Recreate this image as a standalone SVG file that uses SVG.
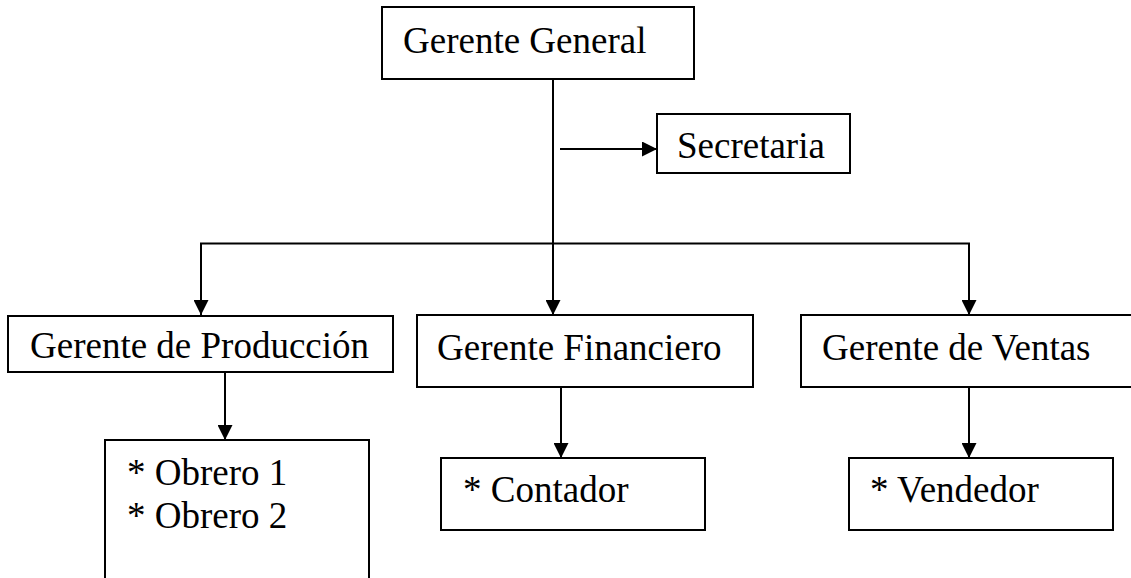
<svg xmlns="http://www.w3.org/2000/svg" width="1131" height="578" viewBox="0 0 1131 578">
  <defs>
    <style>
      .box { fill: #ffffff; stroke: #000000; stroke-width: 2; }
      .lbl { font-family: "Liberation Serif", "Times New Roman", serif; font-size: 37px; fill: #000000; }
      .wire { fill: none; stroke: #000000; stroke-width: 2; }
    </style>
    <marker id="arrow" viewBox="0 0 15 15" refX="15" refY="7.5" markerWidth="15" markerHeight="15" markerUnits="userSpaceOnUse" orient="auto">
      <path d="M0,0 L15,7.5 L0,15 Z" fill="#000000"/>
    </marker>
  </defs>
  <rect width="1131" height="578" fill="#ffffff"/>

  <!-- connectors -->
  <g id="connectors">
    <line class="wire" x1="553" y1="79" x2="553" y2="315" marker-end="url(#arrow)"/>
    <line class="wire" x1="560" y1="149" x2="657" y2="149" marker-end="url(#arrow)"/>
    <polyline class="wire" points="201,315 201,243.5 969,243.5 969,315"/>
    <line class="wire" x1="201" y1="300" x2="201" y2="315" marker-end="url(#arrow)"/>
    <line class="wire" x1="969" y1="300" x2="969" y2="315" marker-end="url(#arrow)"/>
    <line class="wire" x1="225" y1="372" x2="225" y2="440" marker-end="url(#arrow)"/>
    <line class="wire" x1="561" y1="387" x2="561" y2="458" marker-end="url(#arrow)"/>
    <line class="wire" x1="969" y1="387" x2="969" y2="458" marker-end="url(#arrow)"/>
  </g>

  <g id="gerente-general">
    <rect class="box" x="382" y="7" width="312" height="72"/>
    <text class="lbl" x="403" y="53">Gerente General</text>
  </g>

  <g id="secretaria">
    <rect class="box" x="657" y="114" width="193" height="59"/>
    <text class="lbl" x="677" y="158">Secretaria</text>
  </g>

  <g id="gerente-produccion">
    <rect class="box" x="8" y="316" width="385" height="56"/>
    <text class="lbl" x="30" y="358">Gerente de Producción</text>
  </g>

  <g id="gerente-financiero">
    <rect class="box" x="417" y="315" width="336" height="72"/>
    <text class="lbl" x="437" y="360">Gerente Financiero</text>
  </g>

  <g id="gerente-ventas">
    <rect class="box" x="801" y="315" width="340" height="72"/>
    <text class="lbl" x="822" y="360">Gerente de Ventas</text>
  </g>

  <g id="obreros">
    <rect class="box" x="105" y="440" width="264" height="150"/>
    <text class="lbl" x="127" y="485">* Obrero 1</text>
    <text class="lbl" x="127" y="528">* Obrero 2</text>
  </g>

  <g id="contador">
    <rect class="box" x="441" y="458" width="264" height="72"/>
    <text class="lbl" x="463" y="502">* Contador</text>
  </g>

  <g id="vendedor">
    <rect class="box" x="849" y="458" width="264" height="72"/>
    <text class="lbl" x="870" y="502">* Vendedor</text>
  </g>
</svg>
